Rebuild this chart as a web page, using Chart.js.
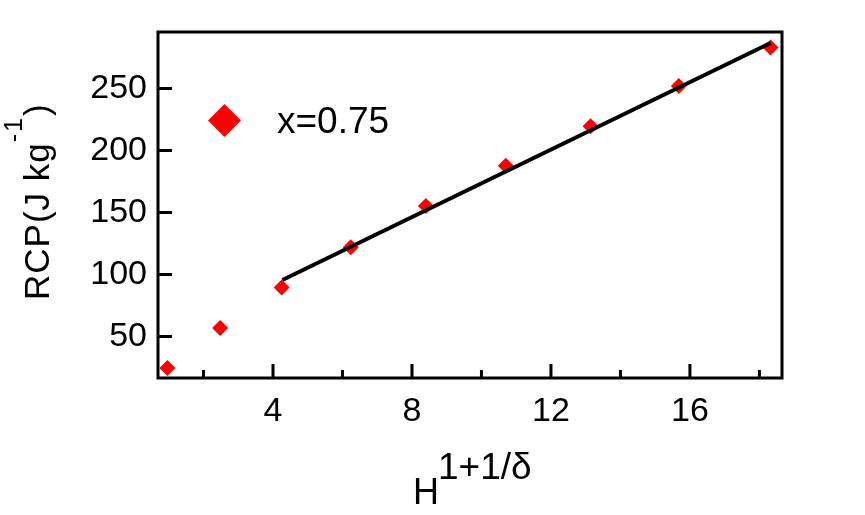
<!DOCTYPE html>
<html>
<head>
<meta charset="utf-8">
<title>RCP vs H^(1+1/delta)</title>
<script src="https://cdn.jsdelivr.net/npm/chart.js@4.4.1/dist/chart.umd.min.js"></script>
<style>
    html, body { margin: 0; padding: 0; background: #ffffff; }
    #wrap { width: 865px; height: 515px; }
</style>
</head>
<body>
<div id="wrap"><canvas id="rcpChart" width="865" height="515"></canvas></div>
<script>
const fieldValues = [0.96, 2.48, 4.25, 6.24, 8.40, 10.70, 13.14, 15.68, 18.32];
const rcpValues = [24.6, 56.8, 89.5, 122.0, 155.2, 187.7, 219.6, 252.1, 283.0];

// Linear fit line end points
const fitField = [4.27, 18.32];
const fitRcp = [95.6, 286.7];

// Axis ticks
const xTickValues = [2, 4, 6, 8, 10, 12, 14, 16, 18];
const xLabelValues = [4, 8, 12, 16];
const yTickValues = [50, 100, 150, 200, 250];

const seriesLabel = 'x=0.75';
const FONT = '"Liberation Sans", Arial, sans-serif';

// Frame + inward tick marks
const framePlugin = {
    id: 'frame',
    afterDatasetsDraw(chart) {
        const ctx = chart.ctx;
        const a = chart.chartArea;
        const xs = chart.scales.x;
        const ys = chart.scales.y;
        ctx.save();
        ctx.strokeStyle = '#000';
        ctx.lineWidth = 3;
        ctx.strokeRect(a.left, a.top, a.right - a.left, a.bottom - a.top);
        ctx.beginPath();
        xTickValues.forEach(v => {
            const px = xs.getPixelForValue(v);
            const len = xLabelValues.includes(v) ? 14 : 8;
            ctx.moveTo(px, a.bottom);
            ctx.lineTo(px, a.bottom - len);
        });
        yTickValues.forEach(v => {
            const py = ys.getPixelForValue(v);
            ctx.moveTo(a.left, py);
            ctx.lineTo(a.left + 14, py);
        });
        ctx.stroke();
        ctx.restore();
    }
};

// Legend and axis titles (with superscripts)
const titlesPlugin = {
    id: 'titles',
    afterDraw(chart) {
        const ctx = chart.ctx;
        ctx.save();
        ctx.fillStyle = '#000';
        ctx.textBaseline = 'alphabetic';
        ctx.textAlign = 'left';

        // legend
        const cx = 224.5, cy = 120.5, r = 16.5;
        ctx.fillStyle = '#ff0000';
        ctx.beginPath();
        ctx.moveTo(cx, cy - r);
        ctx.lineTo(cx + r, cy);
        ctx.lineTo(cx, cy + r);
        ctx.lineTo(cx - r, cy);
        ctx.closePath();
        ctx.fill();
        ctx.fillStyle = '#000';
        ctx.font = '37px ' + FONT;
        ctx.fillText(chart.data.datasets[1].label, 277, 133);

        // x title
        ctx.font = '36px ' + FONT;
        ctx.fillText('H', 413, 504);
        ctx.font = '37px ' + FONT;
        ctx.fillText('1+1/\u03b4', 438, 479);

        // y title
        ctx.translate(49, 300);
        ctx.rotate(-Math.PI / 2);
        ctx.font = '35px ' + FONT;
        ctx.letterSpacing = '1px';
        const main = 'RCP(J kg';
        const w = ctx.measureText(main).width;
        ctx.fillText(main, 0, 0);
        ctx.font = '25px ' + FONT;
        ctx.letterSpacing = '2px';
        const sup = '-1';
        const sw = ctx.measureText(sup).width;
        ctx.fillText(sup, w, -27);
        ctx.font = '35px ' + FONT;
        ctx.letterSpacing = '0px';
        ctx.fillText(')', w + sw, 0);
        ctx.restore();
    }
};

const ctx = document.getElementById('rcpChart');

new Chart(ctx, {
    data: {
        datasets: [
            {
                type: 'line',
                label: 'fit',
                data: fitField.map((x, i) => ({ x: x, y: fitRcp[i] })),
                borderColor: '#000000',
                borderWidth: 4,
                pointRadius: 0,
                fill: false,
                clip: false
            },
            {
                type: 'scatter',
                label: seriesLabel,
                data: fieldValues.map((x, i) => ({ x: x, y: rcpValues[i] })),
                pointStyle: 'rectRot',
                pointRadius: 8,
                backgroundColor: '#ff0000',
                borderWidth: 0,
                clip: false
            }
        ]
    },
    options: {
        responsive: false,
        animation: false,
        devicePixelRatio: 1,
        layout: { padding: { top: 32, right: 83, left: 0, bottom: 0 } },
        plugins: {
            legend: { display: false },
            tooltip: { enabled: false }
        },
        scales: {
            x: {
                type: 'linear',
                min: 0.69,
                max: 18.65,
                afterFit: s => { s.height = 137; },
                afterBuildTicks: s => { s.ticks = xTickValues.map(v => ({ value: v })); },
                grid: { display: false, drawTicks: false },
                border: { display: false },
                ticks: {
                    color: '#000',
                    padding: 13,
                    maxRotation: 0,
                    autoSkip: false,
                    font: { family: FONT, size: 34 },
                    callback: v => xLabelValues.includes(v) ? String(v) : ''
                }
            },
            y: {
                type: 'linear',
                min: 16.5,
                max: 295.6,
                afterFit: s => { s.width = 158; },
                afterBuildTicks: s => { s.ticks = yTickValues.map(v => ({ value: v })); },
                grid: { display: false, drawTicks: false },
                border: { display: false },
                ticks: {
                    color: '#000',
                    padding: 11,
                    font: { family: FONT, size: 34 },
                    callback: v => String(v)
                }
            }
        }
    },
    plugins: [framePlugin, titlesPlugin]
});
</script>
</body>
</html>
